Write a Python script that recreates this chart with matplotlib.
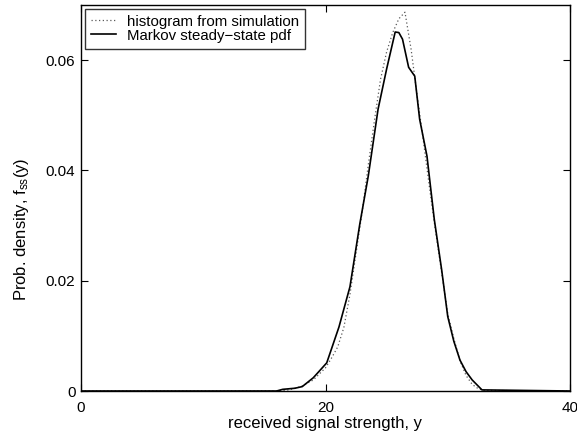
import matplotlib
matplotlib.use("Agg")
import matplotlib.pyplot as plt

plt.rcParams['font.family'] = ['Liberation Sans', 'DejaVu Sans']
plt.rcParams['mathtext.fontset'] = 'custom'
plt.rcParams['mathtext.rm'] = 'Liberation Sans'
plt.rcParams['mathtext.it'] = 'Liberation Sans'

# Histogram of simulated received signal strength
hist_y = [0, 16, 17, 18, 19, 20, 20.5, 21, 21.5, 22, 22.5, 23, 23.5, 24, 24.5,
          25, 25.5, 26, 26.5, 27, 27.5, 28, 28.5, 29, 29.5, 30, 30.5, 31, 31.5,
          32, 32.5, 33, 40]
hist_f = [0, 0, 0.0002, 0.0008, 0.002, 0.0042, 0.006, 0.008, 0.0115, 0.0175,
          0.025, 0.0325, 0.041, 0.049, 0.0565, 0.0615, 0.065, 0.0675, 0.0687,
          0.062, 0.0535, 0.0455, 0.037, 0.029, 0.0215, 0.014, 0.0095, 0.0055,
          0.0028, 0.0012, 0.0004, 0.0001, 0]

# Markov chain steady-state density
markov_y = [0, 16.0, 16.5, 17.5, 18.1, 19.0, 20.1, 21.1, 22.0, 22.8, 23.5, 24.3,
            25.0, 25.7, 26.0, 26.3, 26.8, 27.3, 27.7, 28.3, 28.9, 29.5, 30.0,
            30.5, 31.0, 31.5, 32.0, 32.8, 40]
markov_f = [0, 0, 0.0003, 0.0005, 0.0008, 0.0024, 0.0051, 0.0116, 0.0189, 0.0302,
            0.039, 0.0511, 0.0584, 0.0651, 0.065, 0.0638, 0.0587, 0.0571, 0.0493,
            0.0426, 0.0311, 0.022, 0.0135, 0.009, 0.0056, 0.0035, 0.002, 0.0002, 0]

x_ticks = [0, 20, 40]
y_ticks = [0, 0.02, 0.04, 0.06]
y_tick_labels = ['0', '0.02', '0.04', '0.06']

fig = plt.figure(figsize=(5.77, 4.40), dpi=100)
ax = fig.add_axes([81 / 577, 1 - 391 / 440, (570 - 81) / 577, (391 - 5) / 440])

ax.plot(hist_y, hist_f, linestyle=(0, (1, 2)), color='0.35', linewidth=0.9,
        label='histogram from simulation')
ax.plot(markov_y, markov_f, color='black', linewidth=1.2,
        label='Markov steady\u2212state pdf')

ax.set_xlim(0, 40)
ax.set_ylim(0, 0.07)
ax.set_xticks(x_ticks)
ax.set_yticks(y_ticks)
ax.set_yticklabels(y_tick_labels)
ax.tick_params(direction='in', top=True, right=True, length=5, width=0.8,
               labelsize=11)
ax.tick_params(axis='x', pad=7)
ax.tick_params(axis='y', pad=4)
for s in ax.spines.values():
    s.set_linewidth(1.0)

ax.set_xlabel('received signal strength, y', fontsize=12, labelpad=1)
ax.set_ylabel(r'Prob. density, f$_{\rm ss}$(y)', fontsize=12)
ax.yaxis.set_label_coords(-0.102, 0.42)

leg = ax.legend(loc='upper left', fontsize=10.8, frameon=True, fancybox=False,
                edgecolor='black', borderpad=0.4, labelspacing=0.0,
                handlelength=1.7, handletextpad=0.7, borderaxespad=0.25)
leg.get_frame().set_linewidth(1.0)

fig.savefig('out.png', dpi=100)
